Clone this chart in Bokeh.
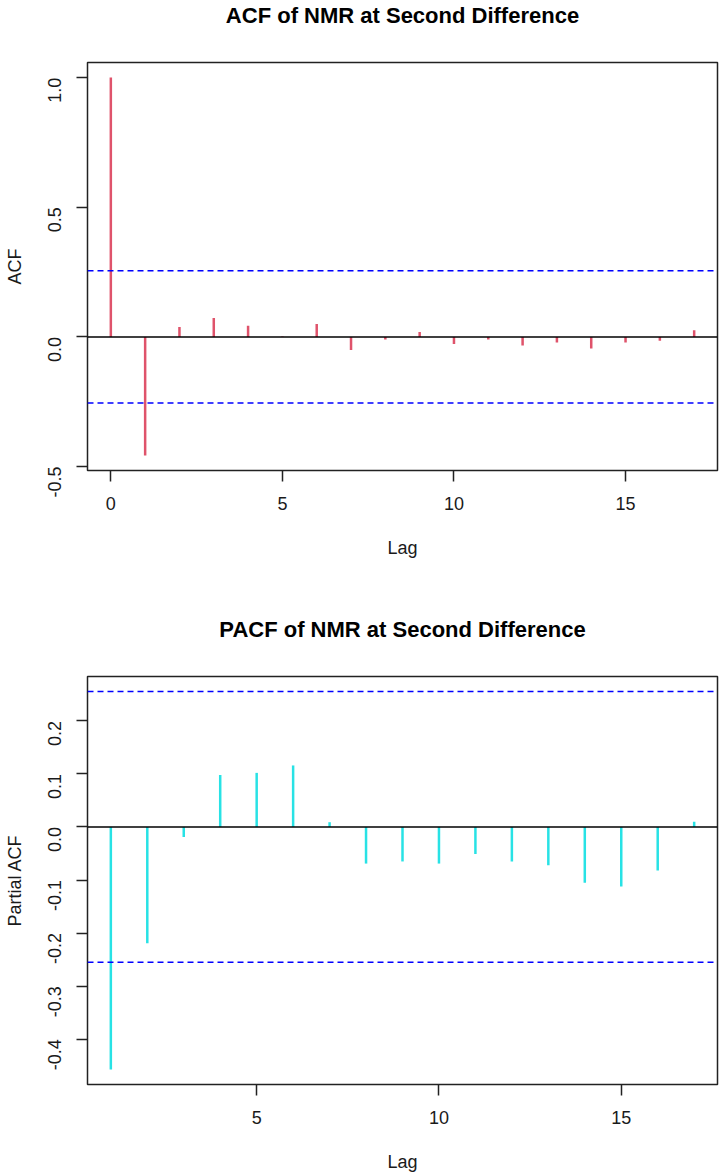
import math
from bokeh.plotting import figure
from bokeh.layouts import column
from bokeh.models import Range1d, FixedTicker, Span, Title
from bokeh.embed import file_html
from bokeh.resources import INLINE

# Autocorrelation of the second-differenced NMR series
acf_lags = list(range(0, 18))
acf_vals = [1.0, -0.457, 0.038, 0.073, 0.043, 0.002, 0.050, -0.051, -0.010,
            0.019, -0.027, -0.010, -0.033, -0.022, -0.045, -0.022, -0.015, 0.026]

# Partial autocorrelation of the same series
pacf_lags = list(range(1, 18))
pacf_vals = [-0.457, -0.219, -0.019, 0.098, 0.102, 0.116, 0.009, -0.069, -0.065,
             -0.069, -0.051, -0.065, -0.072, -0.105, -0.112, -0.082, 0.010]

# 95% significance bound
ci = 0.2552

acf_yticks = [-0.5, 0.0, 0.5, 1.0]
acf_xticks = [0, 5, 10, 15]
pacf_yticks = [-0.4, -0.3, -0.2, -0.1, 0.0, 0.1, 0.2]
pacf_xticks = [5, 10, 15]

FONT = "Liberation Sans"
TICK_PX = "18px"
TITLE_PX = "22px"


def padded(lo, hi, frac=0.04):
    d = (hi - lo) * frac
    return lo - d, hi + d


def make_panel(lags, vals, color, title, ylabel, xticks, yticks,
               height, top, bottom):
    x0, x1 = padded(min(lags), max(lags))
    y0, y1 = padded(min(min(vals), -ci), max(max(vals), ci))
    p = figure(width=720, height=height, output_backend="svg",
               toolbar_location=None, tools="",
               x_range=Range1d(x0, x1), y_range=Range1d(y0, y1),
               min_border_left=87, min_border_right=3,
               min_border_top=top, min_border_bottom=bottom,
               background_fill_color="white", border_fill_color="white")

    # blank strip between the frame and the heading, then the heading itself
    p.title.text = ""
    p.add_layout(Title(text=" ", text_font_size="1px", standoff=32), "above")
    p.add_layout(Title(text=title, align="center", text_font=FONT,
                       text_font_size=TITLE_PX, text_font_style="bold",
                       text_color="black", standoff=0), "above")

    p.grid.visible = False
    p.outline_line_color = "#222222"
    p.outline_line_width = 1.5

    for ax in (p.xaxis[0], p.yaxis[0]):
        ax.axis_line_color = None
        ax.major_tick_out = 11
        ax.major_tick_in = 0
        ax.major_tick_line_color = "#222222"
        ax.major_tick_line_width = 1.5
        ax.minor_tick_line_color = None
        ax.major_label_text_font = FONT
        ax.major_label_text_font_size = TICK_PX
        ax.major_label_text_color = "#1a1a1a"
        ax.axis_label_text_font = FONT
        ax.axis_label_text_font_size = TICK_PX
        ax.axis_label_text_font_style = "normal"
        ax.axis_label_text_color = "#1a1a1a"

    p.xaxis.ticker = FixedTicker(ticks=xticks)
    p.xaxis.major_label_overrides = {t: str(t) for t in xticks}
    p.xaxis.major_label_standoff = 15
    p.xaxis.axis_label = "Lag"
    p.xaxis.axis_label_standoff = 25

    p.yaxis.ticker = FixedTicker(ticks=yticks)
    p.yaxis.major_label_overrides = {t: f"{t:.1f}" for t in yticks}
    p.yaxis.major_label_orientation = math.pi / 2
    p.yaxis.major_label_standoff = 22
    p.yaxis.axis_label = ylabel
    p.yaxis.axis_label_standoff = 14

    # zero line and significance bounds
    p.add_layout(Span(location=0, dimension="width",
                      line_color="black", line_width=1.5))
    for c in (ci, -ci):
        p.add_layout(Span(location=c, dimension="width", line_color="blue",
                          line_width=1.5, line_dash="6 4"))

    p.segment(x0=lags, y0=[0] * len(lags), x1=lags, y1=vals,
              line_color=color, line_width=2.5)
    return p


p1 = make_panel(acf_lags, acf_vals, "#DF536B",
                "ACF of NMR at Second Difference", "ACF",
                acf_xticks, acf_yticks, 614, 61, 144)
p2 = make_panel(pacf_lags, pacf_vals, "#28E2E5",
                "PACF of NMR at Second Difference", "Partial ACF",
                pacf_xticks, pacf_yticks, 560, 60, 90)

layout = column(p1, p2, spacing=0)
open("out.html", "w").write(file_html(layout, INLINE))
